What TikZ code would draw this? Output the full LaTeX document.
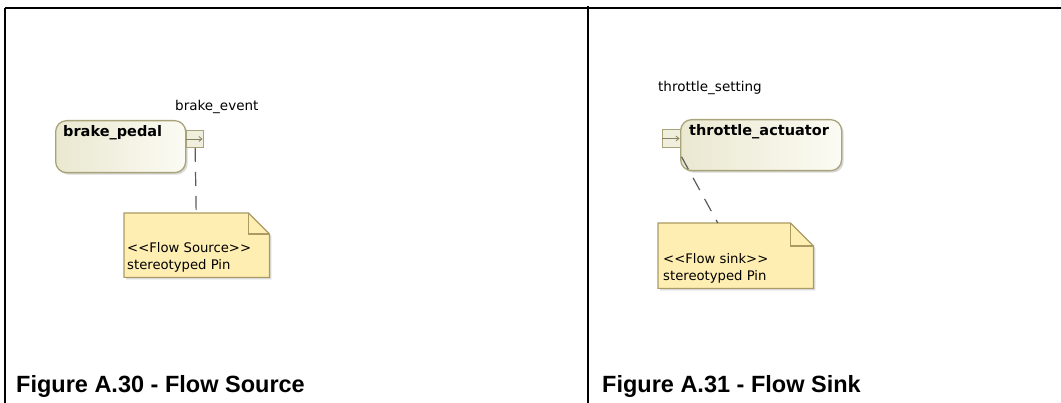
\documentclass[tikz,border=0pt]{standalone}
\usepackage{fontspec}
\setmainfont{DejaVu Sans}
\newfontfamily\capfont{Liberation Sans}
\usetikzlibrary{arrows.meta,shadows}
\definecolor{boxborder}{RGB}{168,163,120}
\definecolor{boxleft}{RGB}{234,232,208}
\definecolor{boxright}{RGB}{251,251,244}
\definecolor{notefill}{RGB}{255,238,178}
\definecolor{noteborder}{RGB}{170,155,100}
\definecolor{connc}{RGB}{90,90,90}
\tikzset{
  x=1pt, y=-1pt,
  actbox/.style={draw=boxborder, line width=1.3pt, rounded corners=11pt,
    left color=boxleft, right color=boxright,
    drop shadow={shadow xshift=2pt, shadow yshift=-2pt, fill=black!25, opacity=0.6},
    anchor=north west, inner sep=0pt},
  pinbox/.style={draw=boxborder, line width=1pt, fill=boxleft!70!white,
    anchor=north west, inner sep=0pt, minimum width=17pt, minimum height=17pt},
  pinarrow/.style={draw=boxborder!80!black, line width=0.8pt, -{Straight Barb[length=3pt,width=5pt]}},
  notebox/.style={anchor=north west, inner sep=0pt},
  noteshape/.style={draw=noteborder, line width=1.2pt, fill=notefill,
    drop shadow={shadow xshift=2pt, shadow yshift=-2pt, fill=black!25, opacity=0.6}},
  conn/.style={draw=connc, line width=1.2pt, dash pattern=on 14pt off 10pt},
  plain/.style={font=\fontsize{13.5}{17}\selectfont, inner sep=0pt},
  boldlbl/.style={font=\fontsize{14.5}{17}\selectfont\bfseries, inner sep=0pt, anchor=base west},
  notetext/.style={font=\fontsize{13.2}{17.5}\selectfont, align=left, inner sep=0pt, anchor=north west},
  caption/.style={font=\capfont\fontsize{23.5}{27}\selectfont\bfseries, inner sep=0pt, anchor=base west},
  frame/.style={line width=1.5pt, black}
}
\begin{document}
\begin{tikzpicture}
\useasboundingbox (0,0) rectangle (1061,403);
% frame
\coordinate (tl) at (5,8);
\coordinate (tr) at (1061,8);
\coordinate (bl) at (5,403);
\coordinate (mt) at (588,6);
\coordinate (mb) at (588,403);
\draw[line width=2.2pt] (tl) -- (tr);
\draw[frame] (tl) -- (bl);
\draw[frame] (mt) -- (mb);

% ---------- left: flow source ----------
\node[actbox, minimum width=130pt, minimum height=52pt] (bp) at (55,120) {};
\node[boldlbl] (bpl) at (63,137) {brake\_pedal};
\node[pinbox] (bpin) at (186,130) {};
\draw[pinarrow] (bpin.west) -- ([xshift=-1.5pt]bpin.east);
\node[plain, anchor=base west] (bev) at (175,111) {brake\_event};

\node[notebox, minimum width=145pt, minimum height=64pt] (n1) at (124,213) {};
\path[noteshape] (n1.north west) -- ([xshift=-21pt]n1.north east) -- ([yshift=-21pt]n1.north east)
   -- (n1.south east) -- (n1.south west) -- cycle;
\draw[draw=noteborder, line width=1.2pt] ([xshift=-21pt]n1.north east) -- ([xshift=-21pt,yshift=-21pt]n1.north east) -- ([yshift=-21pt]n1.north east);
\node[notetext] (n1t) at (127,242) {<{}<Flow Source>{}>\\stereotyped Pin};
\draw[conn] (bpin) -- (n1);

% ---------- right: flow sink ----------
\node[actbox, minimum width=161pt, minimum height=51pt] (ta) at (680,119) {};
\node[boldlbl] (tal) at (689,136) {throttle\_actuator};
\node[pinbox, minimum width=18pt, minimum height=18pt] (tpin) at (662,129) {};
\draw[pinarrow] (tpin.west) -- ([xshift=-1.5pt]tpin.east);
\node[plain, anchor=base west] (tset) at (658,92) {throttle\_setting};

\node[notebox, minimum width=155pt, minimum height=65pt] (n2) at (658,223) {};
\path[noteshape] (n2.north west) -- ([xshift=-23pt]n2.north east) -- ([yshift=-23pt]n2.north east)
   -- (n2.south east) -- (n2.south west) -- cycle;
\draw[draw=noteborder, line width=1.2pt] ([xshift=-23pt]n2.north east) -- ([xshift=-23pt,yshift=-23pt]n2.north east) -- ([yshift=-23pt]n2.north east);
\node[notetext] (n2t) at (663,253) {<{}<Flow sink>{}>\\stereotyped Pin};
\draw[conn, dash phase=14pt] (tpin) -- (n2);

% ---------- captions ----------
\node[caption] (c1) at (16,392) {Figure A.30 - Flow Source};
\node[caption] (c2) at (602,392) {Figure A.31 - Flow Sink};
\end{tikzpicture}
\end{document}
